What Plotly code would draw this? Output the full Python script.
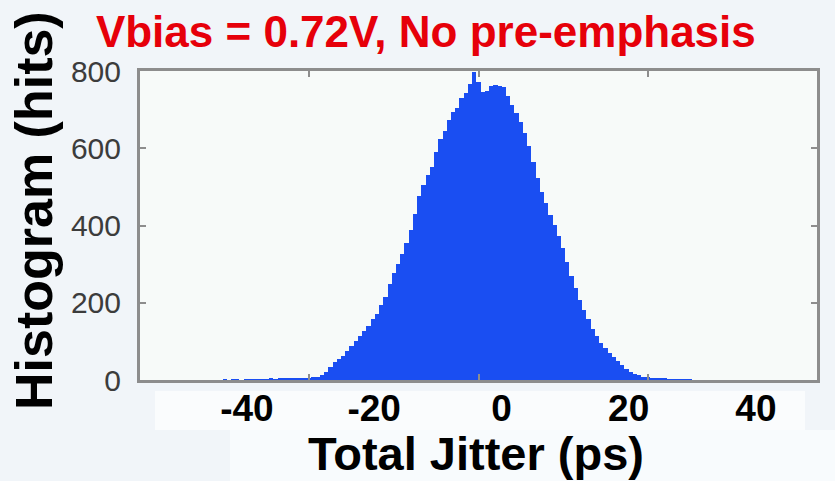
import plotly.graph_objects as go

# ---- data ----
bin_start = -30.0      # centre of first bin (ps)
bin_width = 0.5        # ps
counts = [
    1, 0, 1, 1, 0, 1, 1, 2, 1, 2,            # -30.0 .. -25.5
    2, 3, 2, 3, 4, 3, 4, 5, 5, 6,            # -25.0 .. -20.5
    6, 7, 9, 13, 22, 33, 46, 55, 63, 76,     # -20.0 .. -15.5
    88, 101, 113, 126, 140, 157, 172, 194, 215, 248,   # -15.0 .. -10.5
    278, 300, 325, 355, 389, 430, 476, 505, 532, 552,  # -10.0 .. -5.5
    590, 624, 645, 672, 694, 705, 730, 742, 766, 798,  # -5.0 .. -0.5
    772, 745, 748, 762, 765, 762, 759, 735, 712, 690,  # 0.0 .. 4.5
    668, 640, 605, 565, 522, 488, 458, 428, 402, 372,  # 5.0 .. 9.5
    342, 305, 270, 238, 208, 182, 158, 132, 113, 96,   # 10.0 .. 14.5
    82, 70, 60, 50, 38, 28, 21, 16, 12, 9,             # 15.0 .. 19.5
    7, 5, 4, 3, 3, 2, 2, 1, 1, 1, 1,                   # 20.0 .. 25.0
]
bin_centers = [round(bin_start + i * bin_width, 2) for i in range(len(counts))]

frame_x_ticks = [-40, -20, 0, 20, 40]
label_x_ticks = [-40, -20, 0, 20, 40]
label_x_text = ["-40", "-20", "0", "20", "40"]
y_ticks = [0, 200, 400, 600, 800]

title_text = "Vbias = 0.72V, No pre-emphasis"
x_title = "Total Jitter (ps)"
y_title = "Histogram (hits)"

FONT = "Liberation Sans"
GREY = "#8d8d8d"

fig = go.Figure()
fig.add_trace(go.Bar(
    x=bin_centers, y=counts, width=bin_width,
    marker=dict(color="#1a4ef2", line=dict(width=0)),
    xaxis="x", yaxis="y", hoverinfo="x+y",
))
# invisible helper so the label axis is drawn
fig.add_trace(go.Scatter(
    x=[label_x_ticks[0], label_x_ticks[-1]], y=[0, 0], xaxis="x2", yaxis="y",
    mode="markers", marker=dict(opacity=0), hoverinfo="skip", showlegend=False,
))

fig.update_layout(
    width=835, height=481,
    margin=dict(l=140, r=18, t=71, b=101, pad=0, autoexpand=False),
    paper_bgcolor="#f1f5f9",
    plot_bgcolor="#f7faf9",
    bargap=0,
    showlegend=False,
    title=dict(
        text=title_text, xref="container", x=0.51, xanchor="center",
        yref="container", y=1 - 32 / 481, yanchor="middle",
        font=dict(family=FONT, size=44, color="#e6000a", weight="bold"),
    ),
    xaxis=dict(
        range=[-40, 40], tickvals=frame_x_ticks, showticklabels=False,
        ticks="inside", ticklen=6, tickwidth=2, tickcolor=GREY,
        showline=True, linecolor=GREY, linewidth=3, mirror="ticks",
        showgrid=False, zeroline=False,
    ),
    xaxis2=dict(
        overlaying="x", anchor="y", side="bottom",
        range=[-56.8, 49.6], tickvals=label_x_ticks, ticktext=label_x_text,
        ticks="", showline=False, showgrid=False, zeroline=False,
        tickfont=dict(family=FONT, size=37, color="black", weight="bold"),
        ticklabelstandoff=3,
    ),
    yaxis=dict(
        range=[0, 800], tickvals=y_ticks,
        ticks="inside", ticklen=6, tickwidth=2, tickcolor=GREY,
        showline=True, linecolor=GREY, linewidth=3, mirror="ticks",
        showgrid=False, zeroline=False,
        tickfont=dict(family=FONT, size=30, color="#3c3c3c"),
        ticklabelstandoff=10,
    ),
    annotations=[
        dict(text=y_title, textangle=-90, showarrow=False,
             xref="paper", yref="paper",
             x=(34 - 140) / 677, y=(380 - 211) / 309,
             xanchor="center", yanchor="middle",
             font=dict(family=FONT, size=52, color="black", weight="bold")),
        dict(text=x_title, showarrow=False,
             xref="paper", yref="paper",
             x=(476 - 140) / 677, y=-(453 - 380) / 309,
             xanchor="center", yanchor="middle",
             font=dict(family=FONT, size=47, color="black", weight="bold")),
    ],
    shapes=[
        dict(type="rect", xref="paper", yref="paper", layer="below",
             x0=(155 - 140) / 677, x1=(805 - 140) / 677,
             y0=-(430 - 380) / 309, y1=-(391 - 380) / 309,
             fillcolor="#fafcfd", line=dict(width=0)),
        dict(type="rect", xref="paper", yref="paper", layer="below",
             x0=(230 - 140) / 677, x1=(835 - 140) / 677,
             y0=-(481 - 380) / 309, y1=-(430 - 380) / 309,
             fillcolor="#f8fbfd", line=dict(width=0)),
    ],
)

fig.write_html("out.html")
